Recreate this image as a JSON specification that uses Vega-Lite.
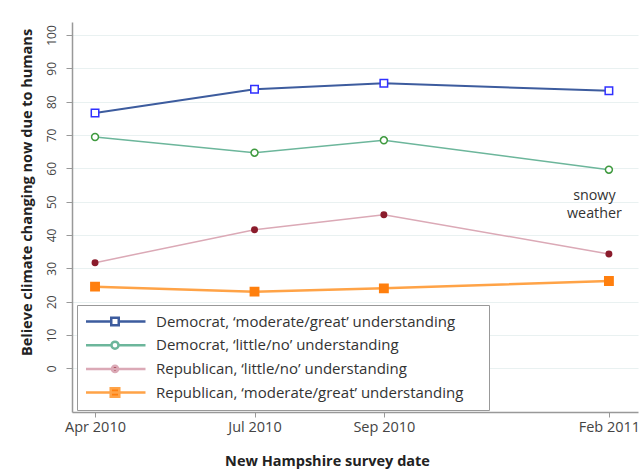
{
  "$schema": "https://vega.github.io/schema/vega-lite/v6.json",
  "width": 566,
  "height": 390,
  "autosize": {"type": "none"},
  "padding": {"left": 72, "top": 22, "right": 4, "bottom": 59},
  "background": "white",
  "data": {
    "values": [
      {"series": "Democrat, ‘moderate/great’ understanding", "date": "2010-04-18", "pct": 76.6},
      {"series": "Democrat, ‘moderate/great’ understanding", "date": "2010-07-17", "pct": 83.7},
      {"series": "Democrat, ‘moderate/great’ understanding", "date": "2010-09-28", "pct": 85.5},
      {"series": "Democrat, ‘moderate/great’ understanding", "date": "2011-02-02", "pct": 83.3},
      {"series": "Democrat, ‘little/no’ understanding", "date": "2010-04-18", "pct": 69.4},
      {"series": "Democrat, ‘little/no’ understanding", "date": "2010-07-17", "pct": 64.7},
      {"series": "Democrat, ‘little/no’ understanding", "date": "2010-09-28", "pct": 68.4},
      {"series": "Democrat, ‘little/no’ understanding", "date": "2011-02-02", "pct": 59.6},
      {"series": "Republican, ‘little/no’ understanding", "date": "2010-04-18", "pct": 31.7},
      {"series": "Republican, ‘little/no’ understanding", "date": "2010-07-17", "pct": 41.6},
      {"series": "Republican, ‘little/no’ understanding", "date": "2010-09-28", "pct": 46.1},
      {"series": "Republican, ‘little/no’ understanding", "date": "2011-02-02", "pct": 34.3},
      {"series": "Republican, ‘moderate/great’ understanding", "date": "2010-04-18", "pct": 24.5},
      {"series": "Republican, ‘moderate/great’ understanding", "date": "2010-07-17", "pct": 23.0},
      {"series": "Republican, ‘moderate/great’ understanding", "date": "2010-09-28", "pct": 24.0},
      {"series": "Republican, ‘moderate/great’ understanding", "date": "2011-02-02", "pct": 26.2}
    ]
  },
  "encoding": {
    "x": {
      "field": "date",
      "type": "temporal",
      "scale": {
        "type": "utc",
        "domain": [
          {"year": 2010, "month": 4, "date": 5, "utc": true},
          {"year": 2011, "month": 2, "date": 18, "hours": 10, "utc": true}
        ]
      },
      "axis": {
        "values": [
          {"year": 2010, "month": 4, "date": 18, "utc": true},
          {"year": 2010, "month": 7, "date": 17, "utc": true},
          {"year": 2010, "month": 9, "date": 28, "utc": true},
          {"year": 2011, "month": 2, "date": 2, "utc": true}
        ],
        "labelExpr": "utcFormat(datum.value, '%b %Y')",
        "grid": false,
        "tickSize": 5,
        "labelPadding": 3,
        "labelFontSize": 14.5,
        "labelFlush": false,
        "labelOverlap": false,
        "title": "New Hampshire survey date",
        "titleX": 255,
        "titleY": 49,
        "titleBaseline": "middle"
      }
    },
    "y": {
      "field": "pct",
      "type": "quantitative",
      "scale": {"domain": [-13.1, 103.9], "nice": false, "zero": false},
      "axis": {
        "values": [0, 10, 20, 30, 40, 50, 60, 70, 80, 90, 100],
        "labelAngle": -90,
        "labelPadding": 8,
        "labelFontSize": 12,
        "tickSize": 6,
        "grid": true,
        "gridColor": "#e9f1f1",
        "gridWidth": 1,
        "title": "Believe climate changing now due to humans",
        "titleX": -45,
        "titleY": 170,
        "titleAngle": -90,
        "titleBaseline": "middle",
        "titleAlign": "center"
      }
    }
  },
  "layer": [
    {
      "mark": {"type": "line"},
      "encoding": {
        "color": {
          "field": "series",
          "type": "nominal",
          "scale": {
            "domain": [
              "Democrat, ‘moderate/great’ understanding",
              "Democrat, ‘little/no’ understanding",
              "Republican, ‘little/no’ understanding",
              "Republican, ‘moderate/great’ understanding"
            ],
            "range": ["#3d5c9e", "#6cb69b", "#dba9b6", "#ffa347"]
          },
          "legend": {
            "title": "\u00a0",
            "titleOrient": "right",
            "titlePadding": 17,
            "orient": "none",
            "legendX": 5,
            "legendY": 283,
            "padding": 9,
            "rowPadding": 7.7,
            "clipHeight": 15,
            "symbolSize": 3721,
            "symbolOffset": -3,
            "labelOffset": 9,
            "symbolStrokeWidth": 2.5,
            "labelFontSize": 15,
            "labelColor": "#333333",
            "labelLimit": 500,
            "strokeColor": "#999999",
            "fillColor": "white",
            "encode": {
              "symbols": {
                "update": {
                  "shape": {"signal": "['M-1,0L-0.123,0M0.123,0L1,0M-0.123,-0.123L0.123,-0.123L0.123,0.123L-0.123,0.123Z','M-1,0L-0.115,0M0.115,0L1,0M-0.115,0A0.115,0.115,0,1,0,0.115,0A0.115,0.115,0,1,0,-0.115,0Z','M-1,0L1,0M-0.1,0A0.1,0.1,0,1,0,0.1,0A0.1,0.1,0,1,0,-0.1,0Z','M-1,0L1,0M-0.14,-0.14L0.14,-0.14L0.14,0.14L-0.14,0.14Z'][indexof(domain('color'), datum.value)]"},
                  "fill": {"signal": "['white','white','#8b1c2c','#ff7f0e'][indexof(domain('color'), datum.value)]"},
                  "stroke": {"signal": "['#3d5c9e','#6cb69b','#e2b9c3','#ffa347'][indexof(domain('color'), datum.value)]"},
                  "strokeWidth": {"value": 2.5},
                  "opacity": {"value": 1},
                  "fillOpacity": {"value": 1}
                }
              }
            }
          }
        },
        "strokeWidth": {
          "condition": [
            {"test": "datum.series === 'Democrat, ‘moderate/great’ understanding'", "value": 2},
            {"test": "datum.series === 'Republican, ‘moderate/great’ understanding'", "value": 2.5}
          ],
          "value": 1.5
        }
      }
    },
    {
      "mark": {"type": "point", "filled": true, "strokeWidth": 1.5, "opacity": 1},
      "encoding": {
        "shape": {
          "condition": [
            {"test": "datum.series === 'Democrat, ‘moderate/great’ understanding'", "value": "square"},
            {"test": "datum.series === 'Republican, ‘moderate/great’ understanding'", "value": "square"}
          ],
          "value": "circle"
        },
        "size": {
          "condition": [
            {"test": "datum.series === 'Democrat, ‘moderate/great’ understanding'", "value": 56},
            {"test": "datum.series === 'Democrat, ‘little/no’ understanding'", "value": 48},
            {"test": "datum.series === 'Republican, ‘little/no’ understanding'", "value": 30}
          ],
          "value": 70
        },
        "fill": {
          "condition": [
            {"test": "datum.series === 'Democrat, ‘moderate/great’ understanding'", "value": "white"},
            {"test": "datum.series === 'Democrat, ‘little/no’ understanding'", "value": "white"},
            {"test": "datum.series === 'Republican, ‘little/no’ understanding'", "value": "#8b1c2c"}
          ],
          "value": "#ff7f0e"
        },
        "stroke": {
          "condition": [
            {"test": "datum.series === 'Democrat, ‘moderate/great’ understanding'", "value": "#3030ff"},
            {"test": "datum.series === 'Democrat, ‘little/no’ understanding'", "value": "#3f9a3f"},
            {"test": "datum.series === 'Republican, ‘little/no’ understanding'", "value": "#8b1c2c"}
          ],
          "value": "#ff7f0e"
        }
      }
    },
    {
      "data": {"values": [{"date": "2011-02-02", "pct": 51.7, "note": "snowy weather"}]},
      "mark": {"type": "text", "lineBreak": " ", "lineHeight": 17.5, "fontSize": 14.3, "color": "#333333", "dx": -14.5, "baseline": "middle", "align": "center"},
      "encoding": {
        "text": {"field": "note"}
      }
    }
  ],
  "config": {
    "font": "Open Sans",
    "view": {"stroke": null},
    "axis": {
      "domainColor": "#999999",
      "domainWidth": 1.5,
      "tickColor": "#999999",
      "tickWidth": 1,
      "labelFont": "Open Sans",
      "labelColor": "#444444",
      "titleFont": "Open Sans",
      "titleFontSize": 14.5,
      "titleFontWeight": "bold",
      "titleColor": "#222222"
    },
    "legend": {"labelFont": "Open Sans"}
  }
}
